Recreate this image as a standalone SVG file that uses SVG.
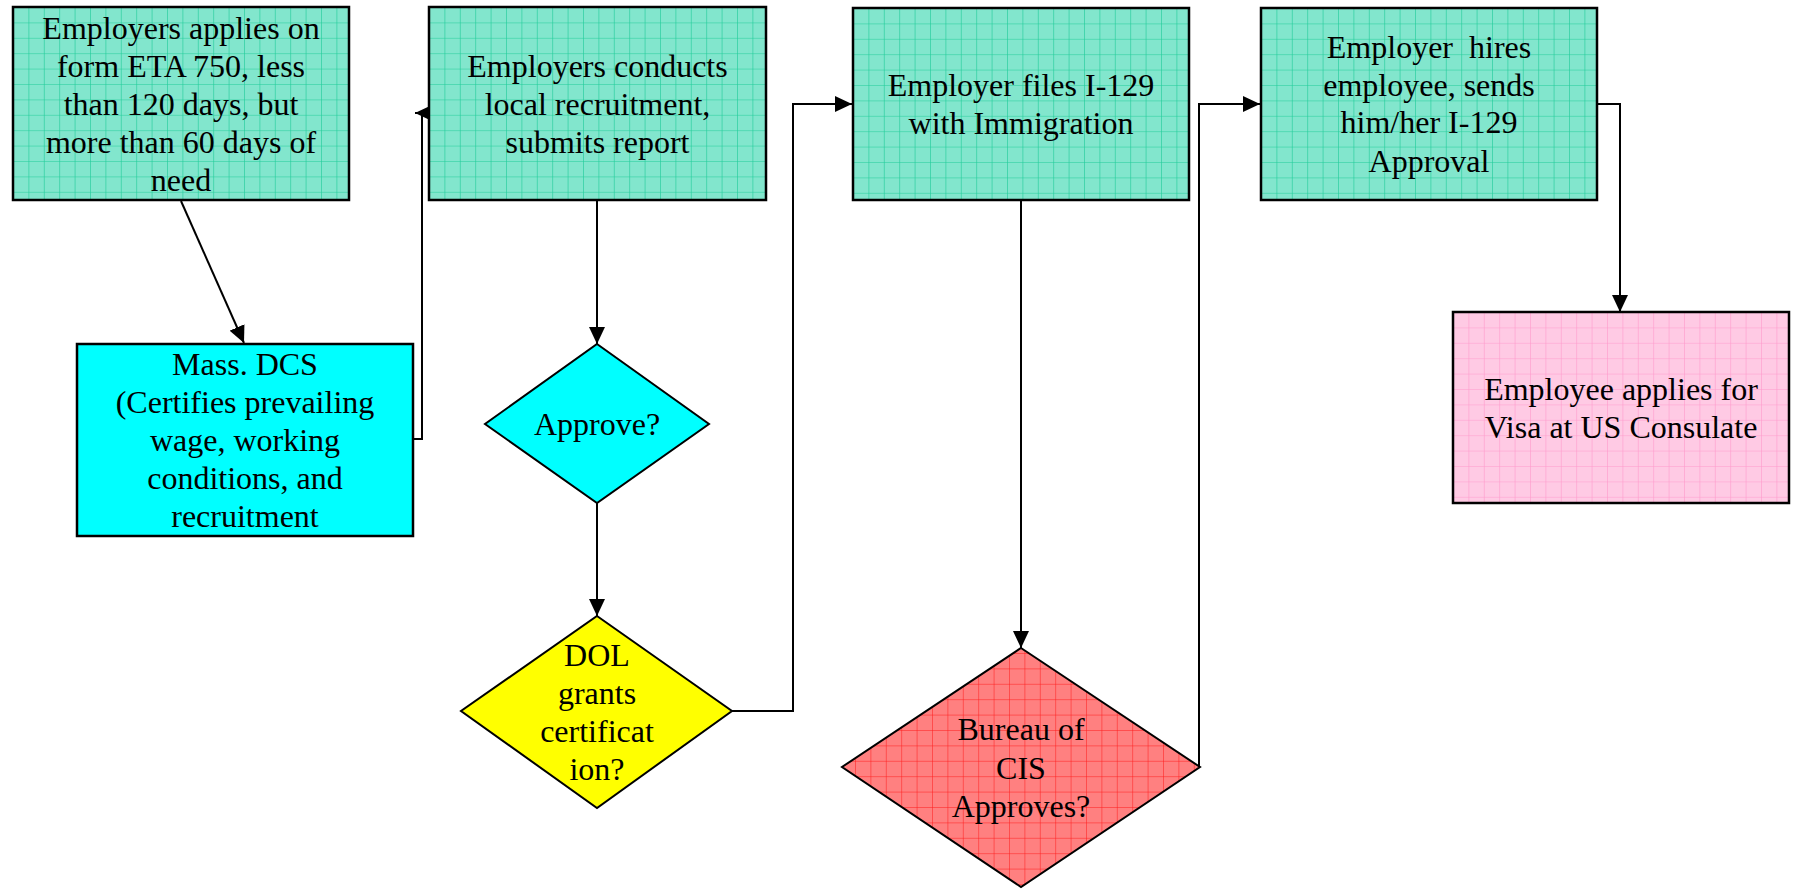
<svg xmlns="http://www.w3.org/2000/svg" width="1797" height="891" viewBox="0 0 1797 891">
<style>
  .box { stroke: #000; stroke-width: 2.5; }
  .dia { stroke: #000; stroke-width: 2; }
  .lbl { font-family: "Liberation Serif", "Times New Roman", serif; font-size: 32px; fill: #000; text-anchor: middle; }
  .conn { fill: none; stroke: #000; stroke-width: 2; }
</style>
<defs>
  <pattern id="gridGreen" patternUnits="userSpaceOnUse" width="15.4" height="15.4">
    <rect width="15.4" height="15.4" fill="#82E6CD"/>
    <path d="M0,0 V15.4 M0,0 H15.4" stroke="#1ECC98" stroke-width="1.2" fill="none"/>
  </pattern>
  <pattern id="gridPink" patternUnits="userSpaceOnUse" width="15.4" height="15.4">
    <rect width="15.4" height="15.4" fill="#FFCAE4"/>
    <path d="M0,0 V15.4 M0,0 H15.4" stroke="#FF9ACC" stroke-width="1.2" fill="none"/>
  </pattern>
  <pattern id="gridRed" patternUnits="userSpaceOnUse" width="15.4" height="15.4" x="13" y="5">
    <rect width="15.4" height="15.4" fill="#FF8080"/>
    <path d="M0,0 V15.4 M0,0 H15.4" stroke="#FF1A1A" stroke-width="1" fill="none"/>
  </pattern>
  <marker id="arrow" markerUnits="userSpaceOnUse" markerWidth="18" markerHeight="16" refX="17" refY="8" orient="auto">
    <path d="M0,0 L17,8 L0,16 z" fill="#000"/>
  </marker>
</defs>

<g id="connectors">
  <path class="conn" d="M181,201 L244,343" marker-end="url(#arrow)"/>
  <path class="conn" d="M413,439 H422 V113 M432,113 H415" marker-end="url(#arrow)"/>
  <path class="conn" d="M597,200 V344" marker-end="url(#arrow)"/>
  <path class="conn" d="M597,503 V616" marker-end="url(#arrow)"/>
  <path class="conn" d="M732,711 H793 V104 H852" marker-end="url(#arrow)"/>
  <path class="conn" d="M1021,200 V648" marker-end="url(#arrow)"/>
  <path class="conn" d="M1199,767 V104 H1260" marker-end="url(#arrow)"/>
  <path class="conn" d="M1597,104 H1620 V312" marker-end="url(#arrow)"/>
</g>

<g id="node-eta750" transform="translate(13,7)">
  <rect class="box" width="336" height="193" fill="url(#gridGreen)"/>
  <text class="lbl" x="168" y="32">Employers applies on</text>
  <text class="lbl" x="168" y="70">form ETA 750, less</text>
  <text class="lbl" x="168" y="108">than 120 days, but</text>
  <text class="lbl" x="168" y="146">more than 60 days of</text>
  <text class="lbl" x="168" y="184">need</text>
</g>

<g id="node-massdcs" transform="translate(77,344)">
  <rect class="box" width="336" height="192" fill="#00FFFF"/>
  <text class="lbl" x="168" y="31">Mass. DCS</text>
  <text class="lbl" x="168" y="69">(Certifies prevailing</text>
  <text class="lbl" x="168" y="107">wage, working</text>
  <text class="lbl" x="168" y="145">conditions, and</text>
  <text class="lbl" x="168" y="183">recruitment</text>
</g>

<g id="node-recruitment" transform="translate(429,7)">
  <rect class="box" width="337" height="193" fill="url(#gridGreen)"/>
  <text class="lbl" x="168.5" y="70">Employers conducts</text>
  <text class="lbl" x="168.5" y="108">local recruitment,</text>
  <text class="lbl" x="168.5" y="146">submits report</text>
</g>

<g id="node-approve">
  <polygon class="dia" points="597,344 709,424 597,503 485,424" fill="#00FFFF"/>
  <text class="lbl" x="597" y="435">Approve?</text>
</g>

<g id="node-dol">
  <polygon class="dia" points="597,616 732,711 597,808 461,711" fill="#FFFF00"/>
  <text class="lbl" x="597" y="666">DOL</text>
  <text class="lbl" x="597" y="704">grants</text>
  <text class="lbl" x="597" y="742">certificat</text>
  <text class="lbl" x="597" y="780">ion?</text>
</g>

<g id="node-i129" transform="translate(853,8)">
  <rect class="box" width="336" height="192" fill="url(#gridGreen)"/>
  <text class="lbl" x="168" y="88">Employer files I-129</text>
  <text class="lbl" x="168" y="126">with Immigration</text>
</g>

<g id="node-cis" transform="translate(842,648)">
  <polygon class="dia" points="179,0 358,119 179,239 0,119" fill="url(#gridRed)"/>
  <text class="lbl" x="179" y="92">Bureau of</text>
  <text class="lbl" x="179" y="131">CIS</text>
  <text class="lbl" x="179" y="169">Approves?</text>
</g>

<g id="node-hires" transform="translate(1261,8)">
  <rect class="box" width="336" height="192" fill="url(#gridGreen)"/>
  <text class="lbl" x="168" y="50" style="white-space:pre" xml:space="preserve">Employer  hires</text>
  <text class="lbl" x="168" y="88">employee, sends</text>
  <text class="lbl" x="168" y="125">him/her I-129</text>
  <text class="lbl" x="168" y="164">Approval</text>
</g>

<g id="node-visa" transform="translate(1453,312)">
  <rect class="box" width="336" height="191" fill="url(#gridPink)"/>
  <text class="lbl" x="168" y="88">Employee applies for</text>
  <text class="lbl" x="168" y="126">Visa at US Consulate</text>
</g>
</svg>
